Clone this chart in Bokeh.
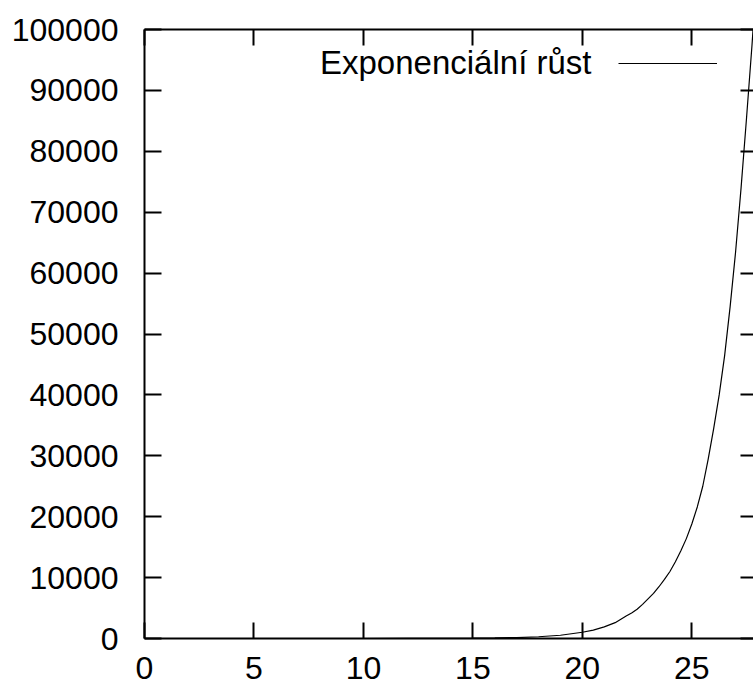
from bokeh.plotting import figure
from bokeh.models import (Range1d, LinearAxis, SingleIntervalTicker, BasicTickFormatter,
                          CustomJSTickFormatter, Legend, LegendItem)
from bokeh.core.properties import value
from bokeh.embed import file_html
from bokeh.resources import INLINE

# ---- data ----
x_vals = [0, 2, 4, 6, 8, 10, 12, 14, 15, 16, 17, 18, 19, 20, 20.5, 21, 21.5, 22,
          22.25, 22.5, 22.75, 23, 23.25, 23.5, 23.75, 24, 24.25, 24.5, 24.75, 25,
          25.25, 25.5, 25.75, 26, 26.25, 26.5, 26.75, 27, 27.25, 27.5, 27.75, 28]
y_vals = [0, 0.03, 0.1, 0.3, 1, 3, 9, 28, 50, 90, 160, 290, 530, 1030, 1380, 1900,
          2600, 3700, 4200, 4800, 5600, 6500, 7400, 8500, 9700, 11000, 12600, 14400,
          16400, 18800, 21600, 25000, 29500, 34500, 40000, 46500, 54500, 63500,
          74000, 85500, 97500, 111000]
series_label = "Exponenciální růst"
x_limits = (0, 28)
y_limits = (0, 100000)
x_tick_step = 5
y_tick_step = 10000

FONT = "Liberation Sans"

p = figure(frame_width=613, frame_height=609,
           x_range=Range1d(*x_limits), y_range=Range1d(*y_limits),
           output_backend="svg", toolbar_location=None,
           x_axis_location=None, y_axis_location=None,
           min_border_left=144, min_border_top=29, min_border_bottom=60,
           min_border_right=0)
p.outline_line_color = None
p.xgrid.grid_line_color = None
p.ygrid.grid_line_color = None
p.background_fill_color = "white"
p.border_fill_color = "white"

blank = CustomJSTickFormatter(code="return ''")


def style(ax, tick_in, labels=True, standoff=0):
    ax.major_tick_in = tick_in
    ax.major_tick_out = 0
    ax.minor_tick_in = 0
    ax.minor_tick_out = 0
    ax.minor_tick_line_color = None
    ax.axis_line_width = 2
    ax.axis_line_color = "black"
    ax.major_tick_line_width = 2
    ax.major_tick_line_color = "black"
    ax.major_label_text_font = FONT
    ax.major_label_text_color = "black"
    ax.major_label_standoff = standoff
    ax.major_label_text_font_size = "32px" if labels else "1px"


left = LinearAxis(ticker=SingleIntervalTicker(interval=y_tick_step),
                  formatter=BasicTickFormatter(use_scientific=False))
style(left, 17, True, 26)
p.add_layout(left, "left")

bottom = LinearAxis(ticker=SingleIntervalTicker(interval=x_tick_step))
style(bottom, 16, True, 18)
p.add_layout(bottom, "below")

top = LinearAxis(ticker=SingleIntervalTicker(interval=x_tick_step), formatter=blank)
style(top, 16, False, 0)
p.add_layout(top, "above")

right = LinearAxis(ticker=SingleIntervalTicker(interval=y_tick_step), formatter=blank)
style(right, 17, False, 0)
p.add_layout(right, "right")

r = p.line(x_vals, y_vals, line_color="black", line_width=1.2)

leg_text = Legend(items=[LegendItem(label=value(series_label), renderers=[r])],
                  location=(176, 556), glyph_width=0, glyph_height=20,
                  label_standoff=0, padding=0, spacing=0, margin=0,
                  border_line_color=None, background_fill_alpha=0,
                  label_text_font=FONT, label_text_font_size="33px",
                  label_text_color="black")
p.add_layout(leg_text)

leg_line = Legend(items=[LegendItem(label=value(""), renderers=[r])],
                  location=(474, 565), glyph_width=99, glyph_height=20,
                  label_width=0, label_height=20, label_standoff=0, padding=0,
                  spacing=0, margin=0, border_line_color=None,
                  background_fill_alpha=0, label_text_font=FONT,
                  label_text_font_size="1px")
p.add_layout(leg_line)

open("out.html", "w").write(file_html(p, INLINE))
